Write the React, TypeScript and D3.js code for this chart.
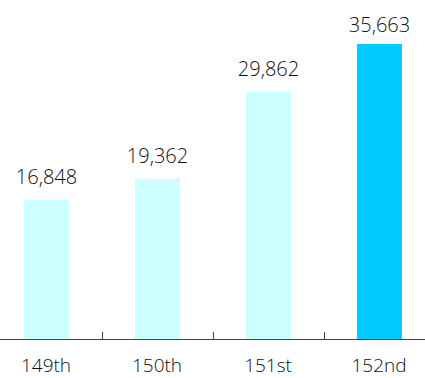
import React, { useEffect, useRef } from "react";
import * as d3 from "d3";

// Sessions and their totals
const sessions = ["149th", "150th", "151st", "152nd"];
const totals = [16848, 19362, 29862, 35663];
const highlighted = ["152nd"];

const W = 425;
const H = 378;
const FONT = "'Open Sans', 'Noto Sans', sans-serif";

export default function App() {
  const ref = useRef<SVGSVGElement | null>(null);

  useEffect(() => {
    const svg = d3.select(ref.current);
    svg.selectAll("*").remove();

    const baseY = 339;
    const x = d3.scaleBand<string>().domain(sessions).range([-9.5, 434.5]).paddingInner(0).paddingOuter(0);
    const y = d3.scaleLinear().domain([0, 40000]).range([baseY, 8.1]);
    const barW = 45;

    const data = sessions.map((s, i) => ({ s, v: totals[i] }));

    svg
      .append("g")
      .selectAll("rect")
      .data(data)
      .join("rect")
      .attr("x", (d) => x(d.s)! + x.bandwidth() / 2 - barW / 2 + 0.5)
      .attr("y", (d) => y(d.v))
      .attr("width", barW)
      .attr("height", (d) => baseY - y(d.v))
      .attr("fill", (d) => (highlighted.includes(d.s) ? "#00ccff" : "#ccffff"));

    // value labels, kept inside the top of the plot
    svg
      .append("g")
      .selectAll("text")
      .data(data)
      .join("text")
      .attr("x", (d) => x(d.s)! + x.bandwidth() / 2 + 0.5)
      .attr("y", (d) => Math.max(y(d.v) - 16, 32))
      .attr("text-anchor", "middle")
      .attr("font-family", FONT)
      .attr("font-weight", 360)
      .attr("font-size", 20)
      .attr("fill", "#111")
      .text((d) => d3.format(",")(d.v));

    // category axis
    const axis = svg.append("g");
    axis
      .append("line")
      .attr("x1", 0)
      .attr("x2", W)
      .attr("y1", baseY + 0.5)
      .attr("y2", baseY + 0.5)
      .attr("stroke", "#444")
      .attr("stroke-width", 1.2);

    axis
      .selectAll("line.tick")
      .data(sessions.slice(1))
      .join("line")
      .attr("class", "tick")
      .attr("x1", (d) => Math.round(x(d)!) + 0.5)
      .attr("x2", (d) => Math.round(x(d)!) + 0.5)
      .attr("y1", baseY - 7)
      .attr("y2", baseY)
      .attr("stroke", "#444")
      .attr("stroke-width", 1);

    axis
      .selectAll("text")
      .data(sessions)
      .join("text")
      .attr("x", (d) => x(d)! + x.bandwidth() / 2)
      .attr("y", 372)
      .attr("text-anchor", "middle")
      .attr("font-family", FONT)
      .attr("font-weight", 360)
      .attr("font-size", 19)
      .attr("fill", "#111")
      .text((d) => d);
  }, []);

  return (
    <svg
      ref={ref}
      width={W}
      height={H}
      style={{ position: "absolute", left: 0, top: 0, background: "#fff", display: "block" }}
    />
  );
}
